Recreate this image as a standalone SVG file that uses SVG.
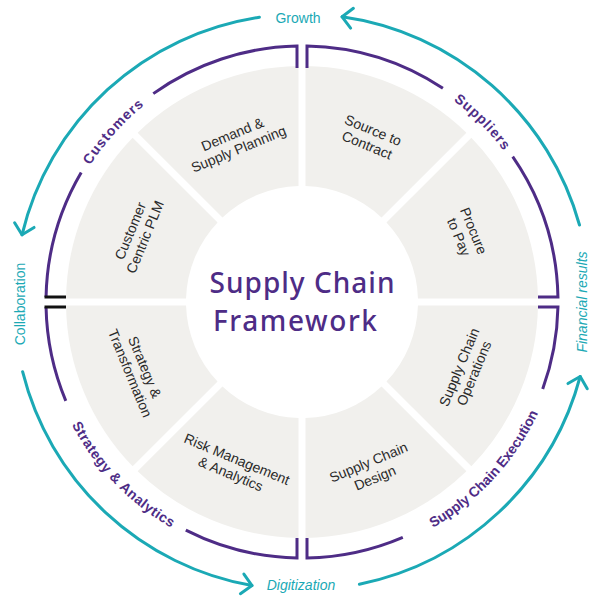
<svg xmlns="http://www.w3.org/2000/svg" width="590" height="598" viewBox="0 0 590 598">
<style>
.seg{fill:#f1f0ed}
.st{font-family:"Liberation Sans",Arial,sans-serif;font-size:14px;fill:#2a2a2a;text-anchor:middle}
.br{fill:none;stroke:#4e2c86;stroke-width:3}
.tk{fill:none;stroke:#111;stroke-width:3}
.bl{font-family:"Liberation Sans",Arial,sans-serif;font-size:14px;font-weight:bold;fill:#4e2c86}
.ta{fill:none;stroke:#1ba9b5;stroke-width:3;stroke-linecap:round}
.tl{font-family:"Liberation Sans",Arial,sans-serif;font-size:14px;fill:#1ba9b5;text-anchor:middle}
.ct{font-family:"Noto Sans","DejaVu Sans",sans-serif;font-size:28px;font-weight:500;fill:#4e2c86;text-anchor:middle}
</style>
<defs>
<marker id="ah" markerUnits="userSpaceOnUse" viewBox="-14 -12 16 24" refX="0" refY="0" markerWidth="16" markerHeight="24" orient="auto" overflow="visible">
<path d="M-10,-10 L0,0 L-10,10" fill="none" stroke="#1ba9b5" stroke-width="3" stroke-linecap="round" stroke-linejoin="round"/>
</marker>
<path id="pCust" d="M55.5,249.6 A252,252 0 0 1 224.1,62.3"/>
<path id="pSupp" d="M367.2,58.6 A252,252 0 0 1 545.4,236.8"/>
<path id="pExec" d="M347.3,559 A261,261 0 0 0 562,324.8"/>
<path id="pStrat" d="M42.7,331.5 A261,261 0 0 0 263.4,560.1"/>
</defs>
<rect width="590" height="598" fill="#ffffff"/>

<g id="procure-to-pay">
<path class="seg" d="M537.97,298.5 A236,236 0 0 0 471.35,137.63 L386.46,222.49 A116,116 0 0 1 417.95,298.5 Z"/>
<g transform="translate(466.45,233.88) rotate(67.5)"><text class="st"><tspan x="0" y="-3">Procure</tspan><tspan x="0" y="13">to Pay</tspan></text></g>
</g>
<g id="source-to-contract">
<path class="seg" d="M466.37,132.65 A236,236 0 0 0 305.5,66.03 L305.5,186.05 A116,116 0 0 1 381.51,217.54 Z"/>
<g transform="translate(370.12,137.55) rotate(22.5)"><text class="st"><tspan x="0" y="-3">Source to</tspan><tspan x="0" y="13">Contract</tspan></text></g>
</g>
<g id="demand-supply-planning">
<path class="seg" d="M298.5,66.03 A236,236 0 0 0 137.63,132.65 L222.49,217.54 A116,116 0 0 1 298.5,186.05 Z"/>
<g transform="translate(235.5,141.5) rotate(-22.5)"><text class="st"><tspan x="0" y="-3">Demand &amp;</tspan><tspan x="0" y="13">Supply Planning</tspan></text></g>
</g>
<g id="customer-centric-plm">
<path class="seg" d="M132.65,137.63 A236,236 0 0 0 66.03,298.5 L186.05,298.5 A116,116 0 0 1 217.54,222.49 Z"/>
<g transform="translate(137.55,233.88) rotate(-67.5)"><text class="st"><tspan x="0" y="-3">Customer</tspan><tspan x="0" y="13">Centric PLM</tspan></text></g>
</g>
<g id="strategy-transformation">
<path class="seg" d="M66.03,305.5 A236,236 0 0 0 132.65,466.37 L217.54,381.51 A116,116 0 0 1 186.05,305.5 Z"/>
<g transform="translate(137.55,370.12) rotate(67.5)"><text class="st"><tspan x="0" y="-3">Strategy &amp;</tspan><tspan x="0" y="13">Transformation</tspan></text></g>
</g>
<g id="risk-management-analytics">
<path class="seg" d="M137.63,471.35 A236,236 0 0 0 298.5,537.97 L298.5,417.95 A116,116 0 0 1 222.49,386.46 Z"/>
<g transform="translate(233.88,466.45) rotate(22.5)"><text class="st"><tspan x="0" y="-3">Risk Management</tspan><tspan x="0" y="13">&amp; Analytics</tspan></text></g>
</g>
<g id="supply-chain-design">
<path class="seg" d="M305.5,537.97 A236,236 0 0 0 466.37,471.35 L381.51,386.46 A116,116 0 0 1 305.5,417.95 Z"/>
<g transform="translate(371.5,469.5) rotate(-22.5)"><text class="st"><tspan x="0" y="-3">Supply Chain</tspan><tspan x="0" y="14">Design</tspan></text></g>
</g>
<g id="supply-chain-operations">
<path class="seg" d="M471.35,466.37 A236,236 0 0 0 537.97,305.5 L417.95,305.5 A116,116 0 0 1 386.46,381.51 Z"/>
<g transform="translate(466.45,370.12) rotate(-67.5)"><text class="st"><tspan x="0" y="-3">Supply Chain</tspan><tspan x="0" y="13">Operations</tspan></text></g>
</g>

<g id="center-title">
<text class="ct" x="302" y="293" textLength="185" lengthAdjust="spacing">Supply Chain</text>
<text class="ct" x="295" y="331" textLength="164" lengthAdjust="spacing">Framework</text>
</g>

<g id="customers">
<path class="br" d="M297,68 L297,46.05 A256,256 0 0 0 153.3,93.6"/>
<path class="br" d="M81.2,172.5 A256,256 0 0 0 46.05,297"/>
<path class="tk" d="M44.5,297 L66,297"/>
<text class="bl"><textPath href="#pCust" startOffset="50%" text-anchor="middle" textLength="81" lengthAdjust="spacing">Customers</textPath></text>
</g>
<g id="suppliers">
<path class="br" d="M307,68 L307,46.05 A256,256 0 0 1 442.9,88.3"/>
<path class="br" d="M512.7,156.6 A256,256 0 0 1 557.95,297 L538,297"/>
<text class="bl"><textPath href="#pSupp" startOffset="50%" text-anchor="middle" textLength="71" lengthAdjust="spacing">Suppliers</textPath></text>
</g>
<g id="supply-chain-execution">
<path class="br" d="M538,307 L557.95,307 A256,256 0 0 1 542.7,389.1"/>
<path class="br" d="M402.8,537.3 A256,256 0 0 1 307,557.95 L307,538"/>
<text class="bl"><textPath href="#pExec" startOffset="50%" text-anchor="middle" textLength="158" lengthAdjust="spacing">Supply Chain Execution</textPath></text>
</g>
<g id="strategy-analytics">
<path class="br" d="M297,538 L297,557.95 A256,256 0 0 1 185.8,530.1"/>
<path class="br" d="M65.8,400.8 A256,256 0 0 1 46.05,307"/>
<path class="tk" d="M44.5,307 L66,307"/>
<text class="bl"><textPath href="#pStrat" startOffset="50%" text-anchor="middle" textLength="145" lengthAdjust="spacing">Strategy &amp; Analytics</textPath></text>
</g>

<g id="connectors">
<path class="ta" d="M259.4,17.2 A288,288 0 0 0 22,234.8" marker-end="url(#ah)"/>
<path class="ta" d="M579.5,225 A288,288 0 0 0 342.1,16.8" marker-end="url(#ah)"/>
<path class="ta" d="M22.6,371.7 A288,288 0 0 0 252,585.6" marker-end="url(#ah)"/>
<path class="ta" d="M359.4,584.2 A288,288 0 0 0 580.2,376.5" marker-end="url(#ah)"/>
</g>

<g id="outer-labels">
<text class="tl" x="298" y="23">Growth</text>
<text class="tl" transform="translate(24.5,304) rotate(-90)">Collaboration</text>
<text class="tl" x="301" y="590" font-style="italic">Digitization</text>
<text class="tl" transform="translate(587,302) rotate(-90)" font-style="italic">Financial results</text>
</g>
</svg>
